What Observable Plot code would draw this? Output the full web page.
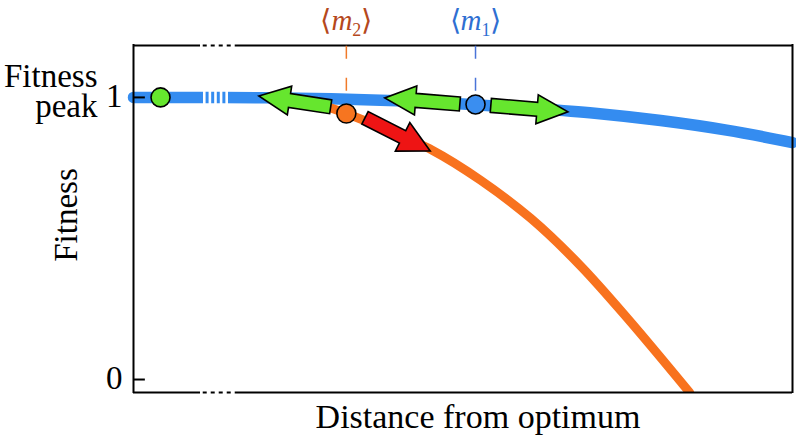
<!DOCTYPE html>
<html><head><meta charset="utf-8">
<script src="https://cdn.jsdelivr.net/npm/d3@7"></script>
<script src="https://cdn.jsdelivr.net/npm/@observablehq/plot@0.6"></script>
<style>body{margin:0;background:#fff}</style>
</head><body><div id="chart"></div>
<script>
// ---- data ----
const blueDist = [0, 1, 2, 3, 4, 5, 6, 7, 8, 9, 10];
const blueFit  = [1, 1, 0.999, 0.995, 0.988, 0.977, 0.962, 0.944, 0.918, 0.884, 0.84];
const orangeDist = [2.84, 3.23, 3.75, 4.54, 5.27, 6.03, 6.78, 7.50, 8.44];
const orangeFit  = [0.975, 0.943, 0.894, 0.812, 0.706, 0.571, 0.404, 0.216, -0.046];
const dotDist = [0.41, 3.23, 5.19];
const dotFit  = [1, 0.943, 0.975];
const dotKind = ["peak", "m2", "m1"];
const meanDist = [3.23, 5.19];
const meanKind = ["m2", "m1"];
const meanLabel = ["⟨m₂⟩", "⟨m₁⟩"];
const meanSymbol = ["m", "m"];
const meanSub = ["2", "1"];
const arrowTailDist = [3.00, 4.96, 5.43, 3.52];
const arrowTailFit  = [0.965, 0.975, 0.970, 0.926];
const arrowTipDist  = [1.91, 3.82, 6.60, 4.51];
const arrowTipFit   = [1.0035, 0.9965, 0.947, 0.8085];
const arrowKind = ["good", "good", "good", "bad"];
const yTicks = [0, 1];
const yTickLabels = ["0", "1"];
const yTitle = "Fitness";
const peakTitle = "Fitness\npeak";
const xTitle = "Distance from optimum";
const axisBreak = [1.017, 1.548];
const lineBreak = [1.062, 1.442];
const xDomain = [0, 10];
const yDomain = [-0.046, 1.184];

// ---- styles ----
const C = {
  blue: "#348cf0", orange: "#f8721e", peak: "#66e62e", m2: "#f77520", m1: "#3a8ef0",
  good: "#66e62e", bad: "#ee1414",
  m2line: "#f07a2a", m1line: "#4a74d8", m2text: "#b5481c", m1text: "#2f6fd2"
};
const font = "Liberation Serif";

const blue = blueDist.map((d, i) => ({d, f: blueFit[i]}));
const orange = orangeDist.map((d, i) => ({d, f: orangeFit[i]}));
const dots = dotDist.map((d, i) => ({d, f: dotFit[i], kind: dotKind[i]}));
const means = meanDist.map((d, i) => ({d, kind: meanKind[i], label: meanLabel[i]}));
const [yBot, yTop] = yDomain;
const frameH = [{y: yTop}, {y: yBot}];

const plot = Plot.plot({
  width: 796, height: 439,
  marginLeft: 133, marginRight: 4, marginTop: 45, marginBottom: 47,
  x: {domain: xDomain, axis: null},
  y: {domain: yDomain, axis: null},
  color: {type: "identity"},
  marks: [
    Plot.line(blue, {x: "d", y: "f", stroke: C.blue, strokeWidth: 11.5, curve: "monotone-x"}),
    Plot.ruleY([1], {x1: lineBreak[0], x2: lineBreak[1], stroke: "#fff", strokeWidth: 14, strokeDasharray: "2.6,3"}),
    Plot.line(orange, {x: "d", y: "f", stroke: C.orange, strokeWidth: 9, curve: "catmull-rom", clip: true}),
    // frame with axis breaks
    Plot.ruleX(xDomain, {y1: yBot, y2: yTop, stroke: "#000", strokeWidth: 2, strokeLinecap: "square"}),
    Plot.ruleY(frameH, {y: "y", x1: xDomain[0], x2: axisBreak[0], stroke: "#000", strokeWidth: 2}),
    Plot.ruleY(frameH, {y: "y", x1: axisBreak[1], x2: xDomain[1], stroke: "#000", strokeWidth: 2}),
    Plot.ruleY(frameH, {y: "y", x1: axisBreak[0], x2: axisBreak[1], stroke: "#000", strokeWidth: 2, strokeDasharray: "4,4", strokeDashoffset: 5.3}),
    // inward y ticks
    Plot.ruleY(yTicks, {x1: 0, x2: 0.18, stroke: "#000", strokeWidth: 2}),
    // mean markers
    Plot.ruleX(means, {x: "d", y1: 1.181, y2: 1.015, stroke: d => C[d.kind + "line"], strokeWidth: 1.5, strokeDasharray: "13,19"}),
    Plot.dot(dots, {x: "d", y: "f", r: 9.5, fill: d => C[d.kind], stroke: "#000", strokeWidth: 1.6}),
    // texts
    Plot.text(means, {x: "d", frameAnchor: "top", text: "label", textAnchor: "middle", lineAnchor: "bottom", dy: -16, fontSize: 29, fontFamily: font, fill: d => C[d.kind + "text"]}),
    Plot.text(yTicks, {y: d => d, frameAnchor: "left", text: (d, i) => yTickLabels[i], textAnchor: "end", dx: -11, dy: -1, fontSize: 33, fontFamily: font, fill: "#000"}),
    Plot.text([{f: 1, t: peakTitle}], {y: "f", text: "t", frameAnchor: "left", textAnchor: "end", dx: -36, dy: -5, lineHeight: 0.92, fontSize: 33, fontFamily: font, fill: "#000"}),
    Plot.text([yTitle], {frameAnchor: "left", textAnchor: "middle", lineAnchor: "middle", rotate: -90, dx: -67, dy: -4, fontSize: 33, fontFamily: font, fill: "#000"}),
    Plot.text([xTitle], {frameAnchor: "bottom", textAnchor: "middle", lineAnchor: "bottom", dx: 15, dy: 35, fontSize: 34, fontFamily: font, fill: "#000"})
  ]
});

document.getElementById("chart").appendChild(plot);
const svg = d3.select(plot);

// rich mean labels: ⟨ italic m, subscript digit ⟩
svg.selectAll("text").each(function() {
  const k = meanLabel.indexOf(this.textContent);
  if (k < 0) return;
  const t = d3.select(this);
  t.text(null);
  t.append("tspan").text("⟨");
  t.append("tspan").attr("font-style", "italic").text(meanSymbol[k]);
  t.append("tspan").attr("font-size", "0.62em").attr("dy", 6).text(meanSub[k]);
  t.append("tspan").attr("dy", -6).text("⟩");
});

// block arrows, positioned with the plot's own scales
const sx = plot.scale("x"), sy = plot.scale("y");
const g = svg.append("g").attr("class", "arrows");
arrowKind.forEach((kind, i) => {
  const tx = sx.apply(arrowTailDist[i]), ty = sy.apply(arrowTailFit[i]);
  const px = sx.apply(arrowTipDist[i]), py = sy.apply(arrowTipFit[i]);
  const L = Math.hypot(px - tx, py - ty);
  const ux = (px - tx) / L, uy = (py - ty) / L;
  const nx = -uy, ny = ux;
  const hs = 7, hh = kind === "bad" ? 16 : 14.5, hl = 31;
  const bx = px - ux * hl, by = py - uy * hl;
  const pts = [
    [tx + nx * hs, ty + ny * hs], [bx + nx * hs, by + ny * hs], [bx + nx * hh, by + ny * hh],
    [px, py],
    [bx - nx * hh, by - ny * hh], [bx - nx * hs, by - ny * hs], [tx - nx * hs, ty - ny * hs]
  ];
  g.append("polygon")
    .attr("points", pts.map(p => p.join(",")).join(" "))
    .attr("fill", C[kind]).attr("stroke", "#000").attr("stroke-width", 1.6)
    .attr("stroke-linejoin", "miter");
});
</script>
</body></html>
